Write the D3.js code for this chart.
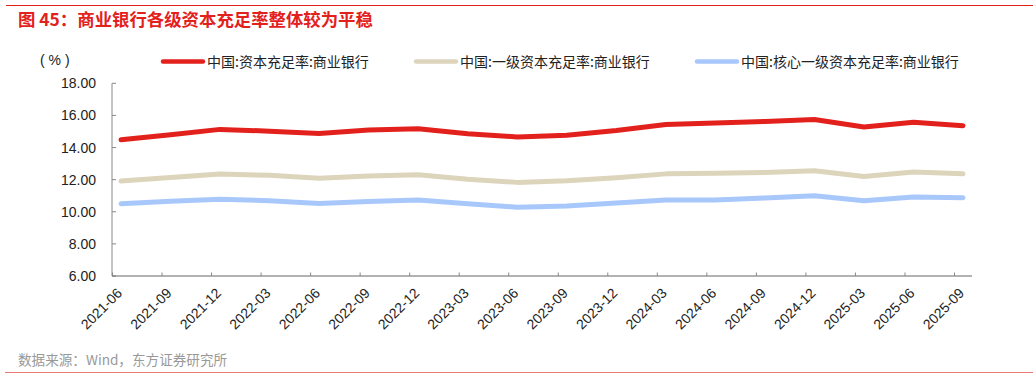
<!DOCTYPE html>
<html><head><meta charset="utf-8">
<script src="https://cdn.jsdelivr.net/npm/d3@7"></script>
<style>
body{margin:0;background:#fff;}
svg{display:block;font-family:"Liberation Sans",Arial,"Noto Sans CJK SC",sans-serif;}
</style></head>
<body><svg id="c" width="1033" height="379"></svg>
<script>
const categories = ["2021-06","2021-09","2021-12","2022-03","2022-06","2022-09","2022-12","2023-03","2023-06","2023-09","2023-12","2024-03","2024-06","2024-09","2024-12","2025-03","2025-06","2025-09"];
const car   = [14.48,14.80,15.13,15.02,14.87,15.09,15.17,14.86,14.66,14.77,15.06,15.43,15.53,15.62,15.74,15.28,15.58,15.36];
const tier1 = [11.91,12.14,12.35,12.27,12.09,12.22,12.30,12.03,11.83,11.93,12.12,12.36,12.40,12.44,12.56,12.19,12.47,12.36];
const core1 = [10.50,10.66,10.78,10.69,10.52,10.64,10.74,10.50,10.28,10.36,10.54,10.74,10.74,10.86,11.00,10.69,10.92,10.87];
const yTicks = [6,8,10,12,14,16,18];
const seriesNames = ["中国:资本充足率:商业银行","中国:一级资本充足率:商业银行","中国:核心一级资本充足率:商业银行"];
const seriesColors = ["#e3211c","#ddd4bc","#a8c8fc"];
const seriesData = [car, tier1, core1];

const svg = d3.select("#c");
const cjk = '"Noto Sans CJK SC",sans-serif';

// top red rule and title
svg.append("line").attr("x1",6).attr("x2",1033).attr("y1",5.5).attr("y2",5.5).attr("stroke","#e3211c").attr("stroke-width",1.2);
svg.append("text").attr("x",18).attr("y",26).attr("fill","#e3211c").attr("font-size",17.4).attr("font-weight","bold")
  .style("font-family",cjk).text("图 45：商业银行各级资本充足率整体较为平稳");

const x = d3.scalePoint().domain(categories).range([121,963]);
const y = d3.scaleLinear().domain([6,18]).range([276,83.3]);
const tickOff = -8.5;

// y axis
const yAxis = svg.append("g");
yAxis.append("line").attr("x1",112).attr("x2",112).attr("y1",y(18)).attr("y2",y(6)).attr("stroke","#888").attr("stroke-width",1);
yTicks.forEach(t=>{
  yAxis.append("line").attr("x1",112).attr("x2",116).attr("y1",y(t)).attr("y2",y(t)).attr("stroke","#888");
  yAxis.append("text").attr("x",96).attr("y",y(t)+5).attr("text-anchor","end").attr("font-size",14).attr("fill","#222").text(d3.format(".2f")(t));
});
svg.append("text").attr("x",40).attr("y",65).attr("font-size",14).attr("fill","#222").text("( % )");

// x axis
const xAxis = svg.append("g");
xAxis.append("line").attr("x1",112).attr("x2",972).attr("y1",276).attr("y2",276).attr("stroke","#666").attr("stroke-width",1);
categories.forEach(c=>{
  const px = x(c)+tickOff;
  xAxis.append("line").attr("x1",px).attr("x2",px).attr("y1",276).attr("y2",272.5).attr("stroke","#888");
  xAxis.append("text").attr("transform",`translate(${x(c)+2},${294}) rotate(-45)`).attr("text-anchor","end")
    .attr("font-size",14).attr("fill","#222").text(c);
});

// lines
const line = d3.line().x((d,i)=>x(categories[i])).y(d=>y(d)).curve(d3.curveLinear);
[2,1,0].forEach(k=>{
  svg.append("path").datum(seriesData[k]).attr("d",line).attr("fill","none")
    .attr("stroke",seriesColors[k]).attr("stroke-width",5).attr("stroke-linejoin","round").attr("stroke-linecap","round");
});

// legend
const legX = [163,416,697];
seriesNames.forEach((n,i)=>{
  svg.append("line").attr("x1",legX[i]).attr("x2",legX[i]+40).attr("y1",61.5).attr("y2",61.5)
    .attr("stroke",seriesColors[i]).attr("stroke-width",4.5).attr("stroke-linecap","round");
  svg.append("text").attr("x",legX[i]+44).attr("y",66.5).attr("font-size",14).attr("fill","#222").style("font-family",cjk).text(n);
});

// source and bottom rule
svg.append("text").attr("x",18).attr("y",365).attr("font-size",13.6).attr("fill","#999").style("font-family",cjk).text("数据来源：Wind，东方证券研究所");
svg.append("line").attr("x1",5).attr("x2",1033).attr("y1",372.5).attr("y2",372.5).attr("stroke","#e87a72").attr("stroke-width",1.2);
</script></body></html>
